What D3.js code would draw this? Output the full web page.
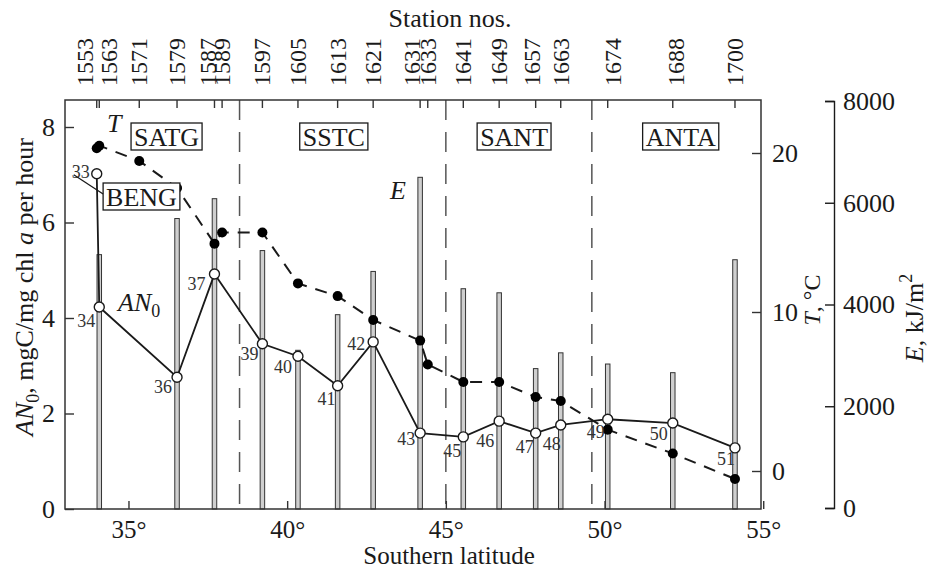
<!DOCTYPE html>
<html><head><meta charset="utf-8">
<script src="https://cdn.jsdelivr.net/npm/d3@7"></script>
<style>
html,body{margin:0;padding:0;background:#fff;}
svg{display:block;font-family:"Liberation Serif","Times New Roman",serif;}
</style></head>
<body><svg id="c" width="928" height="569"></svg>
<script>
// ---------- data ----------
const stations   = [1553,1563,1571,1579,1587,1589,1597,1605,1613,1621,1631,1633,1641,1649,1657,1663,1674,1688,1700];
const stationLat = [34.0,34.08,35.34,36.53,37.71,37.95,39.22,40.34,41.59,42.71,44.19,44.43,45.55,46.68,47.83,48.62,50.10,52.15,54.11];
const expNo      = [33,34,null,36,37,null,39,40,41,42,43,null,45,46,47,48,49,50,51];
const an0        = [7.02,4.23,null,2.76,4.92,null,3.46,3.20,2.58,3.50,1.59,null,1.51,1.84,1.59,1.76,1.88,1.80,1.28];
const tempC      = [20.3,20.46,19.5,17.8,14.3,15.0,15.0,11.8,11.0,9.5,8.2,6.7,5.6,5.6,4.65,4.4,2.6,1.1,-0.5];
const energy     = [null,4980,null,5690,6080,null,5060,3100,3800,4650,6500,null,4310,4230,2740,3050,2830,2660,4880];
const latTicks   = [35,40,45,50,55];
const an0Ticks   = [0,2,4,6,8];
const tTicks     = [0,10,20];
const eTicks     = [0,2000,4000,6000,8000];
const zoneNames  = ["SATG","SSTC","SANT","ANTA"];
const zoneBounds = [38.5,45.0,49.6];

// ---------- layout (not data) ----------
const zoneLabelLat = [36.2,41.47,47.15,52.4];
const stationLabelShift = {1553:-12,1563:10,1587:-6,1631:-8,1657:-4,1674:5,1688:3};
const expLabelOffset = {33:[-7,4],34:[-4,20],36:[-5,16],37:[-9,16],39:[-4,16],40:[-6,17],41:[-2,19],42:[-8,8],
  43:[-5,12],45:[-2,20],46:[-5,26],47:[-2,20],48:[0,25],49:[-3,19],50:[-5,17],51:[0,17]};

const svg = d3.select("#c");
const X0=65, X1=761, YB=509, YT=100;
const x  = d3.scaleLinear().domain([33,54.93]).range([X0,X1]);
const yA = d3.scaleLinear().domain([0,8]).range([YB,127]);
const yT = d3.scaleLinear().domain([0,20]).range([471,153]);
const yE = d3.scaleLinear().domain([0,8000]).range([508,101]);
const ink="#1a1a1a";
const FF="Liberation Serif, Times New Roman, serif";

const rows = stations.map((s,i)=>({s,lat:stationLat[i],exp:expNo[i],an:an0[i],t:tempC[i],e:energy[i]}));

// zone boundaries
svg.append("g").selectAll("line").data(zoneBounds).join("line")
  .attr("x1",d=>x(d)).attr("x2",d=>x(d)).attr("y1",YT).attr("y2",YB)
  .attr("stroke","#555").attr("stroke-width",1.5).attr("stroke-dasharray","20,12");

// E bars
const bw=4.5;
svg.append("g").selectAll("rect").data(rows.filter(r=>r.e!=null)).join("rect")
  .attr("x",d=>x(d.lat)-bw/2).attr("width",bw)
  .attr("y",d=>yE(d.e)).attr("height",d=>YB-yE(d.e))
  .attr("fill","#cfcfcf").attr("stroke","#333").attr("stroke-width",1);

// T dashed line
svg.append("path").datum(rows)
  .attr("d",d3.line().x(d=>x(d.lat)).y(d=>yT(d.t)))
  .attr("fill","none").attr("stroke",ink).attr("stroke-width",2).attr("stroke-dasharray","12,9");

// AN0 solid line
const anRows = rows.filter(r=>r.an!=null);
svg.append("path").datum(anRows)
  .attr("d",d3.line().x(d=>x(d.lat)).y(d=>yA(d.an)))
  .attr("fill","none").attr("stroke",ink).attr("stroke-width",1.8);

// T points
svg.append("g").selectAll("circle").data(rows).join("circle")
  .attr("cx",d=>x(d.lat)).attr("cy",d=>yT(d.t)).attr("r",5).attr("fill","#000");

// AN0 points
svg.append("g").selectAll("circle").data(anRows).join("circle")
  .attr("cx",d=>x(d.lat)).attr("cy",d=>yA(d.an)).attr("r",5)
  .attr("fill","#fff").attr("stroke",ink).attr("stroke-width",1.4);

// experiment numbers
svg.append("g").selectAll("text").data(anRows).join("text")
  .attr("x",d=>x(d.lat)+expLabelOffset[d.exp][0]).attr("y",d=>yA(d.an)+expLabelOffset[d.exp][1])
  .attr("text-anchor","end").attr("font-size",18).attr("fill","#333").text(d=>d.exp);

// frame
svg.append("path").attr("d",`M${X0},${YT}H${X1}V${YB}H${X0}Z`).attr("fill","none").attr("stroke","#333").attr("stroke-width",1.5);

function styleAxis(g,fs){
  g.select(".domain").remove();
  g.selectAll(".tick line").attr("stroke","#333").attr("stroke-width",1.4);
  g.selectAll(".tick text").attr("font-size",fs).attr("fill",ink).attr("font-family",FF);
}
// bottom axis
svg.append("g").attr("transform",`translate(0,${YB})`)
  .call(d3.axisBottom(x).tickValues(latTicks).tickSize(-8).tickPadding(11).tickFormat(d=>d+"°"))
  .call(g=>styleAxis(g,25));
// left axis
svg.append("g").attr("transform",`translate(${X0},0)`)
  .call(d3.axisLeft(yA).tickValues(an0Ticks).tickSize(-9).tickPadding(10))
  .call(g=>styleAxis(g,26));
// T axis (right frame)
svg.append("g").attr("transform",`translate(${X1},0)`)
  .call(d3.axisRight(yT).tickValues(tTicks).tickSize(-9).tickPadding(11))
  .call(g=>styleAxis(g,26));
// E axis
const gE = svg.append("g").attr("transform",`translate(834,0)`)
  .call(d3.axisRight(yE).tickValues(eTicks).tickFormat(d3.format("d")).tickSizeInner(-9).tickSizeOuter(-9).tickPadding(9));
gE.select(".domain").attr("stroke",ink).attr("stroke-width",1.4);
gE.selectAll(".tick line").attr("stroke",ink).attr("stroke-width",1.4);
gE.selectAll(".tick text").attr("font-size",26).attr("fill",ink).attr("font-family",FF);

// top station axis
const gTop = svg.append("g");
gTop.selectAll("line").data(rows).join("line")
  .attr("x1",d=>x(d.lat)).attr("x2",d=>x(d.lat)).attr("y1",YT).attr("y2",YT+8)
  .attr("stroke","#333").attr("stroke-width",1.4);
gTop.selectAll("text").data(rows).join("text")
  .attr("transform",d=>`translate(${x(d.lat)+(stationLabelShift[d.s]||0)+8},86) rotate(-90)`)
  .attr("font-size",24).attr("fill",ink).text(d=>d.s);

// titles
svg.append("text").attr("x",450).attr("y",27).attr("text-anchor","middle").attr("font-size",26).attr("fill",ink).text("Station nos.");
svg.append("text").attr("x",449).attr("y",564).attr("text-anchor","middle").attr("font-size",25).attr("fill",ink).text("Southern latitude");

const lt = svg.append("text").attr("transform","translate(33,287) rotate(-90)").attr("text-anchor","middle").attr("font-size",26).attr("fill",ink);
lt.append("tspan").attr("font-style","italic").text("AN");
lt.append("tspan").attr("font-size",18).attr("dy",6).text("0");
lt.append("tspan").attr("dy",-6).text(", mgC/mg chl ");
lt.append("tspan").attr("font-style","italic").text("a");
lt.append("tspan").text(" per hour");

const tt = svg.append("text").attr("transform","translate(820,300) rotate(-90)").attr("text-anchor","middle").attr("font-size",24).attr("fill",ink);
tt.append("tspan").attr("font-style","italic").text("T");
tt.append("tspan").text(", °C");

const et = svg.append("text").attr("transform","translate(923,318) rotate(-90)").attr("text-anchor","middle").attr("font-size",26).attr("fill",ink);
et.append("tspan").attr("font-style","italic").text("E");
et.append("tspan").text(", kJ/m");
et.append("tspan").attr("font-size",18).attr("dy",-11).text("2");

// series labels
svg.append("text").attr("x",107).attr("y",132).attr("font-size",26).attr("font-style","italic").attr("fill",ink).text("T");
svg.append("text").attr("x",390).attr("y",199).attr("font-size",26).attr("font-style","italic").attr("fill",ink).text("E");
const anl = svg.append("text").attr("x",118).attr("y",311).attr("font-size",26).attr("fill",ink);
anl.append("tspan").attr("font-style","italic").text("AN");
anl.append("tspan").attr("font-size",18).attr("dy",6).text("0");

// zone boxes
function boxLabel(cx, base, txt){
  const g = svg.append("g");
  const t = g.append("text").attr("x",cx).attr("y",base).attr("text-anchor","middle").attr("font-size",26).attr("fill",ink).text(txt);
  const w = t.node().getComputedTextLength();
  g.insert("rect","text").attr("x",cx-w/2-3).attr("y",base-23).attr("width",w+6).attr("height",27)
    .attr("fill","#fff").attr("stroke",ink).attr("stroke-width",1.3);
  return {x:cx-w/2-3, y:base-23, w:w+6};
}
zoneNames.forEach((n,i)=>boxLabel(x(zoneLabelLat[i]),146,n));
const bb = boxLabel(141.5,206,"BENG");
// pointer from exp 33 to BENG
const r33 = rows[0];
svg.append("line").attr("x1",x(r33.lat)-23).attr("y1",yA(r33.an)+1).attr("x2",bb.x).attr("y2",bb.y+11)
  .attr("stroke",ink).attr("stroke-width",1.3);
</script></body></html>
